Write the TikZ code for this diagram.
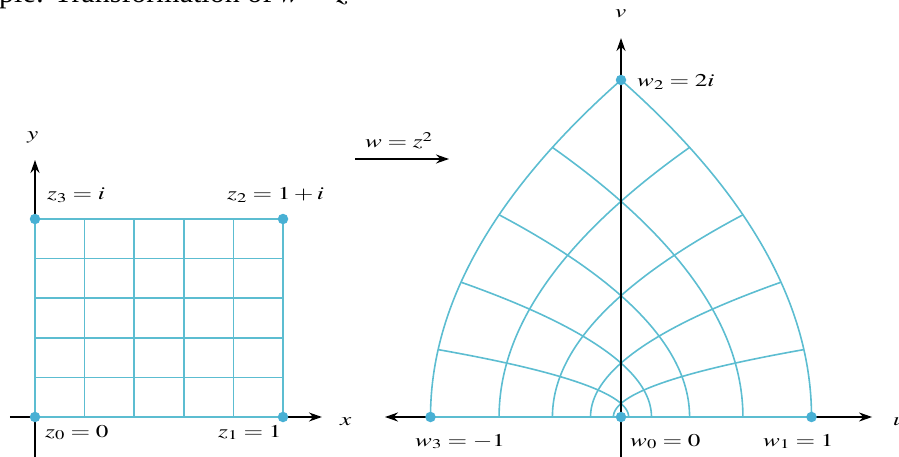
\documentclass[tikz,border=0pt]{standalone}
\usepackage{graphicx}
\usepackage{mathptmx}
\usepackage{fontspec}
\setmainfont{Liberation Serif}
\usetikzlibrary{arrows.meta}
\definecolor{gridblue}{RGB}{92,189,209}
\definecolor{dotblue}{RGB}{72,176,212}
\newcommand\wideLabel[1]{\scalebox{1.4}[1]{$#1$}}
\begin{document}
\begin{tikzpicture}[x=1pt,y=-1pt,
  axis/.style={line width=1.8pt, black},
  tip/.style={-{Stealth[length=13pt,width=9pt]}},
  twotip/.style={{Stealth[length=13pt,width=9pt]}-{Stealth[length=13pt,width=9pt]}},
  gridline/.style={line width=1.6pt, gridblue},
  dot/.style={circle, fill=dotblue, inner sep=0pt, minimum size=10.5pt},
  lab/.style={font=\fontsize{18}{21}\selectfont, inner sep=0pt, anchor=base west}]
\useasboundingbox (0,0) rectangle (899,457);
\clip (0,0) rectangle (899,457);

% title (cut off by the top edge)
\node[inner sep=0pt, anchor=base west, font=\fontsize{30}{34}\selectfont] (title) at (-1,3) {ple: Transformation of $w = z^2$};

% ---------- z-plane ----------
\begin{scope}[shift={(35pt,-417pt)}, x=248pt, y=198pt]
  \coordinate (xa0) at (-0.101,0);
  \coordinate (xa1) at (1.157,0);
  \coordinate (ya0) at (0,-0.21);
  \coordinate (ya1) at (0,1.298);
  \draw[axis,tip] (xa0) -- (xa1);
  \draw[axis,tip] (ya0) -- (ya1);
  \foreach \k in {0,...,5} {
    \draw[gridline] (\k/5,0) -- (\k/5,1);
    \draw[gridline] (0,\k/5) -- (1,\k/5);
  }
  \node[dot] (z0) at (0,0) {};
  \node[dot] (z1) at (1,0) {};
  \node[dot] (z2) at (1,1) {};
  \node[dot] (z3) at (0,1) {};
\end{scope}

% ---------- w-plane ----------
\begin{scope}[shift={(621pt,-417pt)}, x=190.5pt, y=168.5pt]
  \coordinate (ua0) at (-1.239,0);
  \coordinate (ua1) at (1.318,0);
  \coordinate (va0) at (0,-0.25);
  \coordinate (va1) at (0,2.249);
  \draw[axis,twotip] (ua0) -- (ua1);
  \foreach \k in {1,...,5} {
    \pgfmathsetmacro\a{\k/5}
    \draw[gridline] plot[domain=0:1, samples=60, variable=\t, smooth] ({\a*\a-\t*\t},{2*\a*\t});
    \draw[gridline] plot[domain=0:1, samples=60, variable=\t, smooth] ({\t*\t-\a*\a},{2*\a*\t});
  }
  \draw[gridline] (-1,0) -- (1,0);
  \draw[axis,tip] (va0) -- (va1);
  \node[dot] (w0) at (0,0) {};
  \node[dot] (w1) at (1,0) {};
  \node[dot] (w2) at (0,2) {};
  \node[dot] (w3) at (-1,0) {};
\end{scope}

% mapping arrow
\coordinate (mapS) at (355,159);
\coordinate (mapE) at (449,159);
\draw[line width=1.6pt, tip] (mapS) -- (mapE);
\node[lab] (maplab) at (365,148) {\wideLabel{w = z^2}};

% labels
\node[lab] (ylab) at (27,140) {\wideLabel{y}};
\node[lab] (xlab) at (340,425) {\wideLabel{x}};
\node[lab] (z3lab) at (47,200) {\wideLabel{z_3 = i}};
\node[lab] (z2lab) at (227,200) {\wideLabel{z_2 = 1 + i}};
\node[lab] (z0lab) at (45,437) {\wideLabel{z_0 = 0}};
\node[lab] (z1lab) at (218,437) {\wideLabel{z_1 = 1}};

\node[lab] (vlab) at (615,18) {\wideLabel{v}};
\node[lab] (ulab) at (893,425) {\wideLabel{u}};
\node[lab] (w2lab) at (637,87) {\wideLabel{w_2 = 2i}};
\node[lab] (w3lab) at (415,446) {\wideLabel{w_3 = -1}};
\node[lab] (w0lab) at (630,446) {\wideLabel{w_0 = 0}};
\node[lab] (w1lab) at (763,446) {\wideLabel{w_1 = 1}};
\end{tikzpicture}
\end{document}
